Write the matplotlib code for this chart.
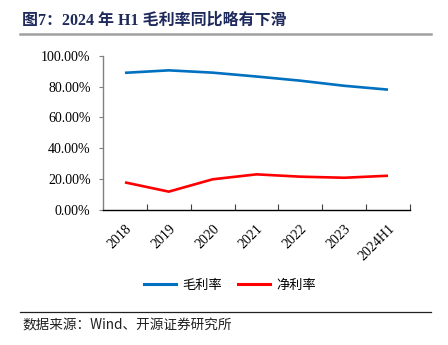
import matplotlib
matplotlib.use("Agg")
import matplotlib.pyplot as plt
from matplotlib.ticker import FuncFormatter, FixedLocator
from matplotlib.lines import Line2D

categories = ["2018", "2019", "2020", "2021", "2022", "2023", "2024H1"]
gross_margin = [88.9, 90.5, 89.0, 86.5, 83.8, 80.5, 78.0]
net_margin = [17.9, 11.9, 19.9, 23.1, 21.6, 20.9, 22.2]
y_ticks = [0, 20, 40, 60, 80, 100]
title = "图7：2024 年 H1 毛利率同比略有下滑"
source = "数据来源：Wind、开源证券研究所"
series_names = ["毛利率", "净利率"]

serif = ["Liberation Serif", "Noto Sans CJK SC"]
cjk = ["Noto Sans CJK SC", "DejaVu Sans"]

fig = plt.figure(figsize=(4.48, 3.45), dpi=100)
ax = fig.add_axes([0.23, 0.3913, 0.685, 0.4473])

x = list(range(len(categories)))
ax.plot(x, gross_margin, color="#0070C0", lw=1.9, solid_capstyle="butt")
ax.plot(x, net_margin, color="#FF0000", lw=1.9, solid_capstyle="butt")

ax.set_xlim(-0.5, len(categories) - 0.5)
ax.set_ylim(0, 100)
ax.set_yticks(y_ticks)
ax.yaxis.set_major_formatter(FuncFormatter(lambda v, p: f"{v:.2f}%"))
for lab in ax.get_yticklabels():
    lab.set_fontfamily(serif)
    lab.set_fontsize(10)
ax.tick_params(axis="y", direction="out", length=3, width=0.8, color="#808080", pad=6)

ax.set_xticks(x)
ax.set_xticklabels(categories, rotation=45, ha="right", rotation_mode="anchor",
                   fontfamily=serif, fontsize=10)
ax.tick_params(axis="x", which="major", length=0, pad=9)
ax.xaxis.set_minor_locator(FixedLocator([i + 0.5 for i in x]))
ax.tick_params(axis="x", which="minor", direction="in", length=4, width=0.8, color="#404040")

for s in ["top", "right"]:
    ax.spines[s].set_visible(False)
ax.spines["left"].set_color("#808080")
ax.spines["left"].set_linewidth(1.0)
ax.spines["bottom"].set_color("#000000")
ax.spines["bottom"].set_linewidth(1.0)

# title
fig.text(22 / 448, 1 - 20.5 / 345, title, fontfamily=serif, fontweight="bold",
         fontsize=11.5, color="#1F2A5C", va="center", ha="left")
fig.add_artist(Line2D([20 / 448, 431 / 448], [1 - 33.5 / 345] * 2, color="#A0A0A0", lw=1.8))

# legend
handles = [Line2D([], [], color="#0070C0", lw=2.2), Line2D([], [], color="#FF0000", lw=2.2)]
leg = fig.legend(handles, series_names, loc="center", bbox_to_anchor=(230 / 448, 1 - 285 / 345),
                 ncol=2, frameon=False, prop={"family": cjk, "size": 9.5},
                 handlelength=2.4, handletextpad=0.5, columnspacing=1.2)

# footer
fig.add_artist(Line2D([20 / 448, 431 / 448], [1 - 311.5 / 345] * 2, color="#202020", lw=0.9))
fig.text(22 / 448, 1 - 325 / 345, source, fontfamily=cjk, fontsize=9.8, color="#202020",
         va="center", ha="left")

fig.savefig("out.png", dpi=100)
